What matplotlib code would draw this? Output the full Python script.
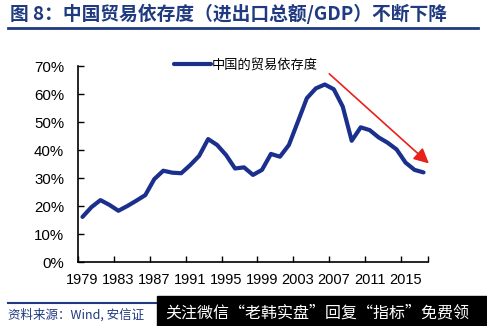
import matplotlib
matplotlib.use("Agg")
import matplotlib.pyplot as plt
from matplotlib.ticker import FixedLocator, FuncFormatter

plt.rcParams['font.family'] = ['Liberation Sans', 'Noto Sans CJK SC', 'DejaVu Sans']

years = list(range(1979, 2018))
values = [16.1, 19.6, 22.1, 20.4, 18.3, 20.0, 21.9, 23.9, 29.6, 32.6,
          31.9, 31.7, 34.6, 37.9, 43.9, 41.8, 38.2, 33.4, 33.8, 31.1,
          32.9, 38.6, 37.6, 41.8, 50.1, 58.5, 62.0, 63.4, 61.7, 55.5,
          43.3, 48.1, 47.1, 44.5, 42.6, 40.2, 35.5, 32.9, 32.0]
series_name = "中国的贸易依存度"
title = "图 8：中国贸易依存度（进出口总额/GDP）不断下降"
source = "资料来源：Wind, 安信证"
watermark = "关注微信“老韩实盘”回复“指标”免费领"
y_ticks = [0, 10, 20, 30, 40, 50, 60, 70]

W, H = 487, 326
fig = plt.figure(figsize=(W / 100, H / 100), dpi=100)
ax = fig.add_axes([78 / W, 1 - 262 / H, 350 / W, 196 / H])

x = list(range(len(years)))
line, = ax.plot(x, values, color='#1B2F8C', lw=3.0, solid_capstyle='round',
                solid_joinstyle='round', label=series_name)

ax.set_xlim(-0.5, len(years) - 0.5)
ax.set_ylim(0, 70)
ax.yaxis.set_major_locator(FixedLocator(y_ticks))
ax.yaxis.set_major_formatter(FuncFormatter(lambda v, p: f"{int(v)}%"))

# category ticks between labels
ax.xaxis.set_major_locator(FixedLocator([i - 0.5 for i in range(0, len(years) + 1, 4)] + [len(years) - 0.5]))
ax.xaxis.set_major_formatter(FuncFormatter(lambda v, p: ""))
lab_pos = list(range(0, len(years), 4))
ax.xaxis.set_minor_locator(FixedLocator(lab_pos))
ax.xaxis.set_minor_formatter(FuncFormatter(lambda v, p: str(years[int(round(v))])))
ax.tick_params(axis='x', which='minor', length=0, labelsize=10.5, pad=8)
ax.tick_params(axis='x', which='major', direction='in', length=4, width=1)
ax.tick_params(axis='y', direction='in', length=4, width=1, labelsize=10.8, pad=10)

for s in ['top', 'right']:
    ax.spines[s].set_visible(False)
for s in ['left', 'bottom']:
    ax.spines[s].set_linewidth(1.2)
    ax.spines[s].set_color('black')

leg = ax.legend(loc='upper left', bbox_to_anchor=(0.24, 1.10), frameon=False,
                prop={'family': ['Noto Sans CJK SC'], 'size': 9.5},
                handlelength=2.8, handletextpad=0.1)

ax.annotate("", xy=(38.6, 35.2), xytext=(27.5, 67.2), annotation_clip=False,
            arrowprops=dict(arrowstyle='-|>,head_length=0.9,head_width=0.45',
                            color='#E8211B', lw=1.2, shrinkA=0, shrinkB=0))

# title
fig.text(10 / W, 1 - 14 / H, title, fontsize=13.5, fontweight='bold', color='#1F3A80',
         family=['Noto Sans CJK SC', 'DejaVu Sans'], va='center', ha='left')
fig.add_artist(plt.Line2D([8 / W, 478 / W], [1 - 28 / H, 1 - 28 / H], color='#1F3A80', lw=2))

# bottom line and source
fig.add_artist(plt.Line2D([8 / W, 478 / W], [1 - 303 / H, 1 - 303 / H], color='#1F3A80', lw=1.5))
fig.text(8 / W, 1 - 315 / H, source, fontsize=9, style='italic', color='#1F3A80',
         family=['Noto Sans CJK SC', 'DejaVu Sans'], va='center', ha='left')

# watermark box
fig.patches.append(plt.Rectangle((157 / W, 0), 1 - 157 / W, 30 / H, transform=fig.transFigure,
                                 color='black', zorder=10))
fig.text(165 / W, 1 - 313 / H, watermark, fontsize=11.5, color='white',
         family=['Noto Sans CJK SC', 'DejaVu Sans'], va='center', ha='left', zorder=11)

fig.savefig("out.png", dpi=100)
